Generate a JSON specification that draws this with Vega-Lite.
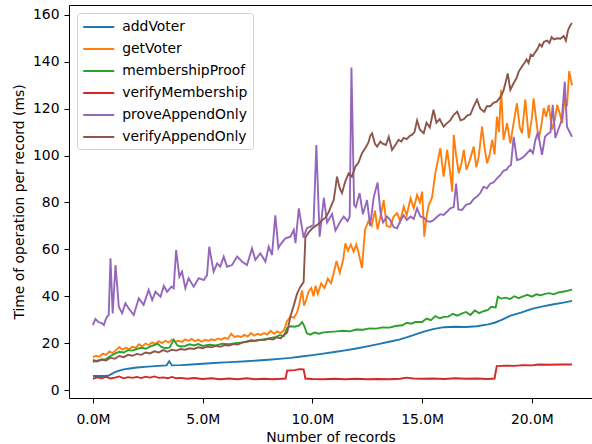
{
"$schema": "https://vega.github.io/schema/vega-lite/v6.json",
"width": 523, "height": 393,
"autosize": {"type": "none"},
"padding": {"left": 69, "top": 5, "right": 0, "bottom": 46},
"background": "white",
"config": {
  "font": "DejaVu Sans",
  "view": {"stroke": "#000", "strokeWidth": 1},
  "axis": {"domain": false, "grid": false, "tickColor": "#000", "tickSize": 5, "tickWidth": 1,
    "labelFont": "DejaVu Sans", "labelFontSize": 13.9, "labelColor": "#000",
    "titleFont": "DejaVu Sans", "titleFontSize": 13.9, "titleFontWeight": "normal", "titleColor": "#000"}
},
"datasets": {
"addVoter": [{"x":0,"y":6.0},{"x":0.5,"y":6.0},{"x":0.7,"y":6.1},{"x":1.0,"y":7.6},{"x":1.3,"y":8.6},{"x":1.6,"y":9.1},{"x":2.0,"y":9.6},{"x":2.5,"y":10.0},{"x":3.0,"y":10.3},{"x":3.35,"y":10.5},{"x":3.48,"y":12.3},{"x":3.6,"y":10.5},{"x":4.0,"y":10.6},{"x":4.5,"y":10.9},{"x":5.0,"y":11.2},{"x":5.5,"y":11.5},{"x":6.0,"y":11.8},{"x":6.5,"y":12.0},{"x":7.0,"y":12.3},{"x":7.5,"y":12.6},{"x":8.0,"y":12.9},{"x":8.5,"y":13.3},{"x":9.0,"y":13.7},{"x":9.5,"y":14.3},{"x":10.0,"y":14.9},{"x":10.5,"y":15.5},{"x":11.0,"y":16.2},{"x":11.5,"y":16.9},{"x":12.0,"y":17.7},{"x":12.5,"y":18.6},{"x":13.0,"y":19.6},{"x":13.5,"y":20.6},{"x":14.0,"y":21.6},{"x":14.5,"y":23.1},{"x":15.0,"y":24.7},{"x":15.5,"y":26.0},{"x":16.0,"y":26.8},{"x":16.5,"y":27.0},{"x":17.0,"y":26.9},{"x":17.5,"y":27.2},{"x":18.0,"y":28.0},{"x":18.3,"y":28.7},{"x":18.6,"y":29.8},{"x":19.0,"y":31.6},{"x":19.5,"y":33.0},{"x":20.0,"y":34.6},{"x":20.5,"y":35.7},{"x":21.0,"y":36.6},{"x":21.5,"y":37.4},{"x":21.83,"y":38.0}],
"getVoter": [{"x":0,"y":14.0},{"x":0.15,"y":14.6},{"x":0.3,"y":14.2},{"x":0.45,"y":15.5},{"x":0.6,"y":15.0},{"x":0.75,"y":16.5},{"x":0.9,"y":15.8},{"x":1.05,"y":17.0},{"x":1.2,"y":18.3},{"x":1.35,"y":17.2},{"x":1.5,"y":18.0},{"x":1.65,"y":17.4},{"x":1.8,"y":18.5},{"x":1.95,"y":18.0},{"x":2.1,"y":19.5},{"x":2.25,"y":18.6},{"x":2.4,"y":19.8},{"x":2.55,"y":19.2},{"x":2.7,"y":20.3},{"x":2.85,"y":19.6},{"x":3.0,"y":20.8},{"x":3.15,"y":20.0},{"x":3.3,"y":21.0},{"x":3.45,"y":20.2},{"x":3.6,"y":21.5},{"x":3.75,"y":20.6},{"x":3.9,"y":21.0},{"x":4.05,"y":20.5},{"x":4.2,"y":21.6},{"x":4.35,"y":21.0},{"x":4.5,"y":21.8},{"x":4.65,"y":20.8},{"x":4.8,"y":21.5},{"x":4.95,"y":20.6},{"x":5.1,"y":21.4},{"x":5.25,"y":21.0},{"x":5.4,"y":21.6},{"x":5.55,"y":21.2},{"x":5.7,"y":22.0},{"x":5.85,"y":21.5},{"x":6.0,"y":22.3},{"x":6.15,"y":21.8},{"x":6.3,"y":24.0},{"x":6.45,"y":22.6},{"x":6.6,"y":23.0},{"x":6.75,"y":22.6},{"x":6.9,"y":23.5},{"x":7.05,"y":22.8},{"x":7.2,"y":24.3},{"x":7.35,"y":23.2},{"x":7.5,"y":24.0},{"x":7.65,"y":23.5},{"x":7.8,"y":24.3},{"x":7.95,"y":23.6},{"x":8.1,"y":25.2},{"x":8.25,"y":24.0},{"x":8.4,"y":25.0},{"x":8.55,"y":24.3},{"x":8.7,"y":25.5},{"x":8.85,"y":29.5},{"x":9.0,"y":31.3},{"x":9.15,"y":30.8},{"x":9.3,"y":33.0},{"x":9.4,"y":36.5},{"x":9.53,"y":42.5},{"x":9.62,"y":36.0},{"x":9.72,"y":38.5},{"x":9.83,"y":42.0},{"x":9.95,"y":43.5},{"x":10.05,"y":40.0},{"x":10.15,"y":44.5},{"x":10.25,"y":41.0},{"x":10.4,"y":45.5},{"x":10.55,"y":43.5},{"x":10.7,"y":47.5},{"x":10.85,"y":45.5},{"x":10.95,"y":49.0},{"x":11.1,"y":55.0},{"x":11.25,"y":50.0},{"x":11.4,"y":55.5},{"x":11.5,"y":62.5},{"x":11.62,"y":59.5},{"x":11.75,"y":62.0},{"x":11.88,"y":59.0},{"x":12.0,"y":62.0},{"x":12.12,"y":58.0},{"x":12.26,"y":52.0},{"x":12.4,"y":68.5},{"x":12.55,"y":72.0},{"x":12.7,"y":70.0},{"x":12.85,"y":76.5},{"x":12.97,"y":68.5},{"x":13.1,"y":74.0},{"x":13.25,"y":81.0},{"x":13.38,"y":70.0},{"x":13.55,"y":69.5},{"x":13.7,"y":74.0},{"x":13.86,"y":75.4},{"x":14.0,"y":72.0},{"x":14.16,"y":78.2},{"x":14.3,"y":74.5},{"x":14.47,"y":81.8},{"x":14.62,"y":77.5},{"x":14.77,"y":83.2},{"x":14.9,"y":80.0},{"x":15.0,"y":84.6},{"x":15.1,"y":65.4},{"x":15.2,"y":74.0},{"x":15.3,"y":78.9},{"x":15.45,"y":82.0},{"x":15.6,"y":92.4},{"x":15.72,"y":98.0},{"x":15.83,"y":103.1},{"x":15.98,"y":91.0},{"x":16.14,"y":102.4},{"x":16.25,"y":95.0},{"x":16.37,"y":84.6},{"x":16.44,"y":108.8},{"x":16.55,"y":100.0},{"x":16.67,"y":92.4},{"x":16.8,"y":97.0},{"x":16.9,"y":102.4},{"x":17.02,"y":94.0},{"x":17.13,"y":96.7},{"x":17.25,"y":100.5},{"x":17.35,"y":103.8},{"x":17.47,"y":95.0},{"x":17.58,"y":99.5},{"x":17.73,"y":112.3},{"x":17.85,"y":103.0},{"x":17.96,"y":96.7},{"x":18.07,"y":100.0},{"x":18.19,"y":106.7},{"x":18.3,"y":100.5},{"x":18.41,"y":116.6},{"x":18.5,"y":110.0},{"x":18.6,"y":128.0},{"x":18.71,"y":106.7},{"x":18.87,"y":113.8},{"x":19.02,"y":105.2},{"x":19.17,"y":114.0},{"x":19.32,"y":122.3},{"x":19.45,"y":112.0},{"x":19.55,"y":109.5},{"x":19.7,"y":124.0},{"x":19.86,"y":107.4},{"x":20.0,"y":116.0},{"x":20.08,"y":124.4},{"x":20.2,"y":115.0},{"x":20.31,"y":106.7},{"x":20.45,"y":114.0},{"x":20.54,"y":120.2},{"x":20.65,"y":116.5},{"x":20.77,"y":121.6},{"x":20.92,"y":111.0},{"x":21.05,"y":115.5},{"x":21.15,"y":121.6},{"x":21.27,"y":118.0},{"x":21.38,"y":113.8},{"x":21.5,"y":125.0},{"x":21.6,"y":121.0},{"x":21.7,"y":136.0},{"x":21.83,"y":130.0}],
"membershipProof": [{"x":0,"y":12.0},{"x":0.2,"y":12.5},{"x":0.4,"y":13.0},{"x":0.6,"y":13.2},{"x":0.8,"y":14.5},{"x":1.0,"y":15.5},{"x":1.2,"y":16.3},{"x":1.4,"y":16.0},{"x":1.6,"y":17.0},{"x":1.8,"y":16.8},{"x":2.0,"y":17.5},{"x":2.2,"y":18.0},{"x":2.4,"y":17.6},{"x":2.6,"y":18.5},{"x":2.8,"y":19.2},{"x":2.95,"y":19.8},{"x":3.1,"y":18.5},{"x":3.3,"y":17.8},{"x":3.5,"y":18.2},{"x":3.68,"y":21.5},{"x":3.85,"y":19.0},{"x":4.0,"y":18.6},{"x":4.2,"y":18.8},{"x":4.4,"y":19.5},{"x":4.6,"y":19.0},{"x":4.8,"y":19.6},{"x":5.0,"y":18.8},{"x":5.3,"y":19.3},{"x":5.6,"y":19.0},{"x":5.9,"y":19.8},{"x":6.2,"y":19.5},{"x":6.5,"y":20.0},{"x":6.8,"y":20.3},{"x":7.1,"y":20.8},{"x":7.4,"y":21.0},{"x":7.7,"y":21.5},{"x":8.0,"y":22.0},{"x":8.3,"y":22.5},{"x":8.5,"y":23.4},{"x":8.7,"y":23.0},{"x":8.85,"y":26.5},{"x":9.0,"y":27.2},{"x":9.2,"y":27.0},{"x":9.4,"y":27.6},{"x":9.53,"y":29.0},{"x":9.62,"y":27.5},{"x":9.75,"y":24.2},{"x":9.9,"y":23.6},{"x":10.1,"y":24.5},{"x":10.3,"y":24.0},{"x":10.5,"y":24.6},{"x":10.8,"y":24.8},{"x":11.1,"y":25.0},{"x":11.4,"y":25.3},{"x":11.7,"y":25.0},{"x":12.0,"y":25.8},{"x":12.3,"y":25.7},{"x":12.6,"y":26.3},{"x":12.9,"y":26.2},{"x":13.2,"y":26.7},{"x":13.5,"y":26.6},{"x":13.8,"y":27.3},{"x":14.1,"y":27.6},{"x":14.3,"y":28.7},{"x":14.5,"y":28.3},{"x":14.7,"y":29.0},{"x":15.0,"y":29.0},{"x":15.2,"y":30.5},{"x":15.4,"y":29.8},{"x":15.6,"y":31.5},{"x":15.8,"y":30.6},{"x":16.0,"y":31.2},{"x":16.2,"y":31.3},{"x":16.4,"y":32.5},{"x":16.6,"y":31.7},{"x":16.8,"y":32.6},{"x":17.0,"y":33.3},{"x":17.2,"y":32.0},{"x":17.4,"y":33.9},{"x":17.6,"y":32.8},{"x":17.8,"y":33.6},{"x":18.0,"y":34.2},{"x":18.15,"y":35.5},{"x":18.35,"y":35.2},{"x":18.45,"y":39.8},{"x":18.6,"y":39.0},{"x":18.8,"y":39.4},{"x":19.0,"y":38.8},{"x":19.2,"y":40.0},{"x":19.4,"y":39.2},{"x":19.6,"y":39.9},{"x":19.8,"y":40.6},{"x":20.0,"y":39.8},{"x":20.2,"y":40.8},{"x":20.4,"y":40.4},{"x":20.6,"y":41.0},{"x":20.8,"y":41.3},{"x":21.0,"y":40.8},{"x":21.2,"y":41.6},{"x":21.4,"y":41.9},{"x":21.6,"y":42.3},{"x":21.83,"y":42.8}],
"verifyMembership": [{"x":0,"y":4.8},{"x":0.2,"y":5.4},{"x":0.4,"y":5.0},{"x":0.6,"y":5.6},{"x":0.8,"y":4.9},{"x":1.0,"y":5.3},{"x":1.2,"y":5.8},{"x":1.4,"y":5.0},{"x":1.6,"y":5.5},{"x":1.8,"y":5.2},{"x":2.0,"y":5.6},{"x":2.2,"y":5.1},{"x":2.4,"y":5.7},{"x":2.6,"y":5.3},{"x":2.8,"y":5.8},{"x":3.0,"y":5.2},{"x":3.2,"y":5.4},{"x":3.4,"y":5.0},{"x":3.6,"y":5.6},{"x":3.8,"y":5.0},{"x":4.0,"y":5.2},{"x":4.3,"y":4.8},{"x":4.6,"y":5.1},{"x":5.0,"y":4.7},{"x":5.4,"y":5.0},{"x":5.8,"y":4.6},{"x":6.2,"y":4.9},{"x":6.6,"y":4.6},{"x":7.0,"y":5.0},{"x":7.4,"y":4.6},{"x":7.8,"y":4.8},{"x":8.2,"y":4.6},{"x":8.6,"y":4.8},{"x":8.78,"y":4.9},{"x":8.85,"y":8.3},{"x":9.2,"y":8.5},{"x":9.4,"y":8.9},{"x":9.6,"y":8.8},{"x":9.68,"y":4.9},{"x":10.0,"y":4.7},{"x":10.5,"y":4.6},{"x":11.0,"y":4.8},{"x":11.5,"y":4.6},{"x":12.0,"y":4.8},{"x":12.5,"y":4.6},{"x":13.0,"y":4.7},{"x":13.5,"y":4.6},{"x":14.0,"y":4.8},{"x":14.3,"y":5.3},{"x":14.6,"y":4.9},{"x":15.0,"y":4.8},{"x":15.5,"y":4.9},{"x":16.0,"y":4.7},{"x":16.5,"y":5.0},{"x":17.0,"y":4.8},{"x":17.5,"y":4.9},{"x":18.0,"y":4.7},{"x":18.3,"y":4.9},{"x":18.4,"y":10.2},{"x":18.8,"y":10.4},{"x":19.2,"y":10.3},{"x":19.6,"y":10.6},{"x":20.0,"y":10.5},{"x":20.3,"y":10.9},{"x":20.8,"y":10.8},{"x":21.3,"y":10.9},{"x":21.83,"y":10.9}],
"proveAppendOnly": [{"x":0,"y":27.7},{"x":0.11,"y":30.3},{"x":0.25,"y":29.0},{"x":0.42,"y":28.4},{"x":0.5,"y":27.7},{"x":0.58,"y":30.0},{"x":0.65,"y":31.3},{"x":0.72,"y":32.0},{"x":0.8,"y":56.2},{"x":0.9,"y":32.7},{"x":1.03,"y":53.3},{"x":1.18,"y":35.5},{"x":1.33,"y":32.7},{"x":1.48,"y":37.0},{"x":1.63,"y":34.8},{"x":1.86,"y":32.0},{"x":2.09,"y":39.1},{"x":2.31,"y":36.3},{"x":2.54,"y":42.7},{"x":2.7,"y":38.4},{"x":2.85,"y":41.9},{"x":3.08,"y":39.8},{"x":3.23,"y":44.4},{"x":3.38,"y":41.9},{"x":3.58,"y":44.1},{"x":3.68,"y":43.4},{"x":3.79,"y":59.7},{"x":3.94,"y":48.3},{"x":4.06,"y":50.5},{"x":4.21,"y":43.4},{"x":4.36,"y":47.7},{"x":4.59,"y":44.1},{"x":4.82,"y":47.7},{"x":5.05,"y":46.9},{"x":5.2,"y":49.0},{"x":5.3,"y":61.1},{"x":5.5,"y":50.5},{"x":5.66,"y":54.0},{"x":5.8,"y":52.6},{"x":5.96,"y":56.9},{"x":6.11,"y":52.6},{"x":6.34,"y":53.3},{"x":6.57,"y":56.9},{"x":6.8,"y":54.7},{"x":7.02,"y":53.3},{"x":7.25,"y":60.4},{"x":7.4,"y":55.5},{"x":7.63,"y":58.3},{"x":7.86,"y":54.7},{"x":8.01,"y":61.1},{"x":8.16,"y":57.6},{"x":8.31,"y":74.5},{"x":8.45,"y":60.5},{"x":8.54,"y":62.0},{"x":8.77,"y":64.7},{"x":9.0,"y":65.4},{"x":9.15,"y":68.3},{"x":9.23,"y":62.6},{"x":9.38,"y":77.5},{"x":9.6,"y":65.0},{"x":9.75,"y":69.0},{"x":9.91,"y":69.7},{"x":10.05,"y":70.5},{"x":10.18,"y":104.5},{"x":10.33,"y":65.4},{"x":10.52,"y":82.0},{"x":10.67,"y":71.5},{"x":10.9,"y":75.0},{"x":11.05,"y":68.0},{"x":11.28,"y":72.0},{"x":11.43,"y":74.0},{"x":11.6,"y":72.0},{"x":11.7,"y":74.0},{"x":11.78,"y":137.5},{"x":11.9,"y":79.0},{"x":11.98,"y":78.0},{"x":12.15,"y":84.0},{"x":12.3,"y":75.0},{"x":12.49,"y":81.0},{"x":12.63,"y":70.0},{"x":12.8,"y":82.5},{"x":12.97,"y":88.5},{"x":13.1,"y":76.0},{"x":13.22,"y":71.5},{"x":13.4,"y":74.0},{"x":13.55,"y":72.5},{"x":13.7,"y":69.5},{"x":13.86,"y":69.0},{"x":14.0,"y":72.0},{"x":14.16,"y":74.5},{"x":14.3,"y":72.5},{"x":14.47,"y":74.0},{"x":14.62,"y":73.0},{"x":14.77,"y":77.5},{"x":14.92,"y":74.0},{"x":15.07,"y":73.5},{"x":15.22,"y":72.0},{"x":15.38,"y":71.8},{"x":15.53,"y":72.5},{"x":15.68,"y":73.9},{"x":15.83,"y":75.0},{"x":15.98,"y":74.7},{"x":16.13,"y":76.0},{"x":16.28,"y":77.5},{"x":16.44,"y":78.0},{"x":16.55,"y":88.0},{"x":16.65,"y":77.0},{"x":16.82,"y":76.8},{"x":17.0,"y":79.0},{"x":17.2,"y":79.6},{"x":17.35,"y":81.5},{"x":17.5,"y":82.5},{"x":17.65,"y":84.0},{"x":17.8,"y":86.7},{"x":17.95,"y":86.0},{"x":18.1,"y":88.0},{"x":18.25,"y":88.5},{"x":18.41,"y":90.3},{"x":18.55,"y":91.5},{"x":18.71,"y":93.5},{"x":18.85,"y":94.0},{"x":18.94,"y":95.3},{"x":19.05,"y":96.0},{"x":19.17,"y":108.0},{"x":19.32,"y":98.1},{"x":19.47,"y":98.5},{"x":19.63,"y":99.5},{"x":19.78,"y":101.0},{"x":19.93,"y":102.5},{"x":20.05,"y":101.0},{"x":20.16,"y":106.7},{"x":20.28,"y":110.0},{"x":20.46,"y":100.3},{"x":20.6,"y":108.0},{"x":20.7,"y":109.0},{"x":20.85,"y":110.0},{"x":20.95,"y":121.6},{"x":21.07,"y":107.5},{"x":21.2,"y":111.0},{"x":21.36,"y":115.0},{"x":21.5,"y":131.5},{"x":21.6,"y":112.3},{"x":21.83,"y":108.0}],
"verifyAppendOnly": [{"x":0,"y":12.8},{"x":0.2,"y":12.2},{"x":0.4,"y":13.0},{"x":0.6,"y":12.6},{"x":0.8,"y":13.8},{"x":1.0,"y":13.3},{"x":1.2,"y":14.5},{"x":1.4,"y":14.0},{"x":1.6,"y":15.0},{"x":1.8,"y":14.6},{"x":2.0,"y":15.4},{"x":2.2,"y":15.0},{"x":2.4,"y":16.0},{"x":2.6,"y":15.6},{"x":2.8,"y":16.5},{"x":3.0,"y":16.0},{"x":3.2,"y":17.0},{"x":3.4,"y":16.3},{"x":3.6,"y":17.2},{"x":3.8,"y":16.8},{"x":4.0,"y":17.5},{"x":4.2,"y":17.2},{"x":4.4,"y":17.8},{"x":4.6,"y":17.5},{"x":4.8,"y":18.2},{"x":5.0,"y":17.8},{"x":5.2,"y":18.5},{"x":5.4,"y":18.2},{"x":5.6,"y":18.8},{"x":5.8,"y":18.4},{"x":6.0,"y":19.2},{"x":6.2,"y":19.0},{"x":6.4,"y":19.6},{"x":6.6,"y":19.4},{"x":6.8,"y":20.2},{"x":7.0,"y":20.6},{"x":7.2,"y":21.2},{"x":7.4,"y":21.0},{"x":7.6,"y":21.5},{"x":7.8,"y":21.3},{"x":8.0,"y":21.8},{"x":8.2,"y":21.5},{"x":8.4,"y":22.5},{"x":8.55,"y":22.0},{"x":8.7,"y":23.5},{"x":8.85,"y":24.5},{"x":9.0,"y":31.5},{"x":9.15,"y":36.0},{"x":9.3,"y":41.0},{"x":9.45,"y":44.0},{"x":9.6,"y":46.0},{"x":9.68,"y":65.0},{"x":9.85,"y":67.5},{"x":10.0,"y":69.0},{"x":10.15,"y":70.0},{"x":10.3,"y":71.0},{"x":10.45,"y":72.5},{"x":10.6,"y":73.5},{"x":10.75,"y":76.0},{"x":10.9,"y":79.6},{"x":10.97,"y":81.0},{"x":11.05,"y":86.0},{"x":11.12,"y":91.0},{"x":11.25,"y":86.0},{"x":11.35,"y":84.0},{"x":11.5,"y":89.0},{"x":11.65,"y":92.4},{"x":11.8,"y":91.0},{"x":11.96,"y":95.3},{"x":12.1,"y":97.0},{"x":12.26,"y":101.0},{"x":12.4,"y":103.0},{"x":12.55,"y":105.5},{"x":12.64,"y":108.5},{"x":12.72,"y":109.5},{"x":12.85,"y":105.0},{"x":12.95,"y":103.8},{"x":13.1,"y":106.0},{"x":13.18,"y":105.2},{"x":13.35,"y":104.5},{"x":13.48,"y":108.0},{"x":13.63,"y":102.4},{"x":13.78,"y":104.5},{"x":13.93,"y":106.7},{"x":14.05,"y":106.0},{"x":14.16,"y":107.5},{"x":14.3,"y":107.0},{"x":14.45,"y":108.5},{"x":14.54,"y":108.8},{"x":14.65,"y":110.0},{"x":14.77,"y":115.0},{"x":14.9,"y":111.0},{"x":15.07,"y":109.5},{"x":15.2,"y":114.0},{"x":15.35,"y":112.0},{"x":15.52,"y":119.5},{"x":15.65,"y":114.0},{"x":15.8,"y":115.5},{"x":15.98,"y":112.3},{"x":16.1,"y":113.5},{"x":16.28,"y":115.0},{"x":16.45,"y":117.5},{"x":16.6,"y":118.7},{"x":16.75,"y":115.0},{"x":16.9,"y":115.5},{"x":17.05,"y":117.0},{"x":17.2,"y":117.5},{"x":17.35,"y":121.0},{"x":17.5,"y":123.8},{"x":17.65,"y":120.0},{"x":17.83,"y":118.7},{"x":17.95,"y":121.0},{"x":18.1,"y":121.0},{"x":18.25,"y":122.5},{"x":18.4,"y":123.0},{"x":18.57,"y":125.0},{"x":18.7,"y":127.5},{"x":18.8,"y":131.0},{"x":18.9,"y":135.0},{"x":19.02,"y":128.0},{"x":19.15,"y":130.5},{"x":19.3,"y":133.0},{"x":19.4,"y":135.8},{"x":19.55,"y":138.0},{"x":19.7,"y":140.0},{"x":19.76,"y":141.0},{"x":19.85,"y":139.5},{"x":19.95,"y":143.0},{"x":20.05,"y":142.5},{"x":20.15,"y":144.0},{"x":20.26,"y":145.5},{"x":20.35,"y":147.5},{"x":20.45,"y":146.5},{"x":20.55,"y":148.5},{"x":20.7,"y":149.0},{"x":20.8,"y":148.0},{"x":20.9,"y":150.5},{"x":21.0,"y":149.5},{"x":21.15,"y":150.0},{"x":21.3,"y":149.8},{"x":21.45,"y":151.0},{"x":21.55,"y":149.0},{"x":21.65,"y":153.5},{"x":21.75,"y":155.5},{"x":21.83,"y":156.5}]
},
"encoding": {
  "x": {"field": "x", "type": "quantitative", "scale": {"domain": [-1.09, 22.74], "nice": false, "zero": false},
    "axis": {"values": [0, 5, 10, 15, 20], "labelExpr": "format(datum.value, '.1f') + 'M'", "title": "Number of records", "labelPadding": 9, "titlePadding": 5, "labelFlush": false}},
  "y": {"field": "y", "type": "quantitative", "scale": {"domain": [-3.4, 164.2], "nice": false, "zero": false},
    "axis": {"values": [0, 20, 40, 60, 80, 100, 120, 140, 160], "title": "Time of operation per record (ms)", "labelPadding": 5, "titlePadding": 6}}
},
"layer": [
  {"data": {"name": "addVoter"}, "mark": {"type": "line", "strokeWidth": 1.9, "clip": true},
   "encoding": {"color": {"datum": "addVoter", "type": "nominal",
     "scale": {"domain": ["addVoter", "getVoter", "membershipProof", "verifyMembership", "proveAppendOnly", "verifyAppendOnly"],
               "range": ["#1f77b4", "#ff7f0e", "#2ca02c", "#d62728", "#9467bd", "#8c564b"]},
     "legend": {"title": null, "orient": "top-left", "offset": 8, "symbolType": "M-2,0L2,0", "symbolSize": 240, "symbolStrokeWidth": 2, "symbolOffset": 7.75,
       "labelFont": "DejaVu Sans", "labelFontSize": 13.9, "labelColor": "#000", "labelOffset": 14.5, "labelLimit": 300,
       "strokeColor": "#d0d0d0", "fillColor": "rgba(255,255,255,0.8)", "padding": 5, "cornerRadius": 3, "rowPadding": 6}}}},
  {"data": {"name": "getVoter"}, "mark": {"type": "line", "strokeWidth": 1.9, "clip": true}, "encoding": {"color": {"datum": "getVoter", "type": "nominal"}}},
  {"data": {"name": "membershipProof"}, "mark": {"type": "line", "strokeWidth": 1.9, "clip": true}, "encoding": {"color": {"datum": "membershipProof", "type": "nominal"}}},
  {"data": {"name": "verifyMembership"}, "mark": {"type": "line", "strokeWidth": 1.9, "clip": true}, "encoding": {"color": {"datum": "verifyMembership", "type": "nominal"}}},
  {"data": {"name": "proveAppendOnly"}, "mark": {"type": "line", "strokeWidth": 1.9, "clip": true}, "encoding": {"color": {"datum": "proveAppendOnly", "type": "nominal"}}},
  {"data": {"name": "verifyAppendOnly"}, "mark": {"type": "line", "strokeWidth": 1.9, "clip": true}, "encoding": {"color": {"datum": "verifyAppendOnly", "type": "nominal"}}}
]
}
